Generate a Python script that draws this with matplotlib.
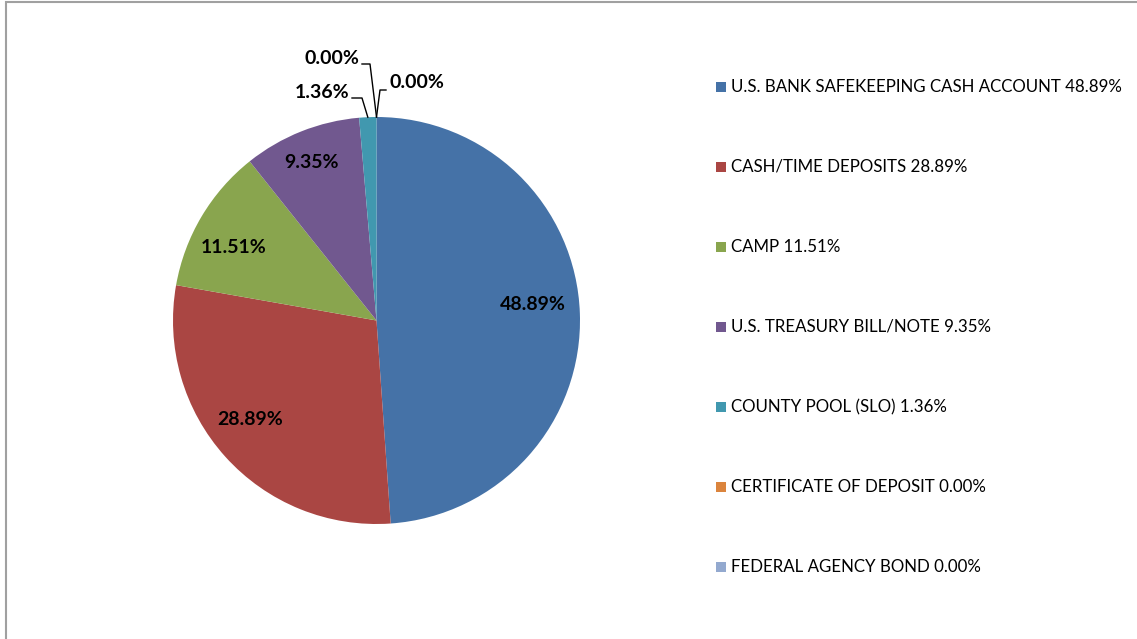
import matplotlib
matplotlib.use("Agg")
import matplotlib.pyplot as plt
from matplotlib.patches import Rectangle
import numpy as np

categories = ["U.S. BANK SAFEKEEPING CASH ACCOUNT", "CASH/TIME DEPOSITS", "CAMP",
              "U.S. TREASURY BILL/NOTE", "COUNTY POOL (SLO)", "CERTIFICATE OF DEPOSIT",
              "FEDERAL AGENCY BOND"]
values = [48.89, 28.89, 11.51, 9.35, 1.36, 0.00, 0.00]
colors = ["#4572A7", "#AA4643", "#89A54E", "#71588F", "#4198AF", "#DB843D", "#93A9CF"]

W, H = 1137, 639
fig = plt.figure(figsize=(W / 100, H / 100), dpi=100)
ax = fig.add_axes([0, 0, 1, 1])

cx, cy, R = 376.5, H - 320.5, 203.5
wedges, _ = ax.pie(values, colors=colors, startangle=90, counterclock=False,
                   center=(cx, cy), radius=R, frame=True,
                   wedgeprops=dict(linewidth=0))
ax.set_xlim(0, W)
ax.set_ylim(0, H)
ax.set_aspect("equal")
ax.axis("off")

font = "Lato"
dist = [0.77, 0.79, 0.79, 0.84]
ang_off = [3.7, -3.8, 3.6, 0.8]
for i, w in enumerate(wedges[:4]):
    mid = np.deg2rad((w.theta1 + w.theta2) / 2 + ang_off[i])
    x = cx + dist[i] * R * np.cos(mid)
    y = cy + dist[i] * R * np.sin(mid)
    ax.text(x, y, f"{values[i]:.2f}%", ha="center", va="center", fontsize=14,
            fontweight="bold", family=font, color="#000000")

def leader(i, pts, tx, ty, ha):
    w = wedges[i]
    mid = np.deg2rad((w.theta1 + w.theta2) / 2)
    ex, ey = cx + R * np.cos(mid), cy + R * np.sin(mid)
    xs = [ex] + [p[0] for p in pts]
    ys = [ey] + [H - p[1] for p in pts]
    ax.plot(xs, ys, color="black", lw=1)
    ax.text(tx, H - ty, f"{values[i]:.2f}%", ha=ha, va="center", fontsize=14,
            fontweight="bold", family=font, color="#000000")

leader(4, [(362, 98), (352, 98)], 349, 93, "right")
leader(5, [(370, 64), (362, 64)], 359, 59, "right")
leader(6, [(380, 90), (386, 90)], 390, 83, "left")

for i, (c, v) in enumerate(zip(categories, values)):
    y = H - (87 + 80 * i)
    ax.add_patch(Rectangle((716, y - 5), 10, 10, facecolor=colors[i], edgecolor="none"))
    ax.text(731, y, f"{c} {v:.2f}%", ha="left", va="center", fontsize=12.2,
            family=font, color="#000000")

ax.add_patch(Rectangle((5.5, -10), W + 20, H - 2 + 10, facecolor="none",
                       edgecolor="#A0A0A0", lw=1.5, clip_on=False))

fig.savefig("out.png", dpi=100)
